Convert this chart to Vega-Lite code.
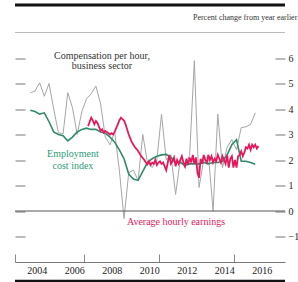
{
  "$schema": "https://vega.github.io/schema/vega-lite/v6.json",
  "autosize": {"type": "none"},
  "width": 270,
  "height": 229.5,
  "padding": {"left": 15, "top": 32.5, "right": 13, "bottom": 20},
  "background": "white",
  "config": {"view": {"stroke": null}, "font": "Liberation Serif"},
  "data": {"values": [{}]},
  "datasets": {
    "comp": [
      {"t": 2004.125, "v": 4.64}, {"t": 2004.375, "v": 4.7}, {"t": 2004.625, "v": 5.03}, {"t": 2004.875, "v": 4.5},
      {"t": 2005.125, "v": 5.0}, {"t": 2005.375, "v": 4.0}, {"t": 2005.625, "v": 3.07}, {"t": 2005.875, "v": 3.03},
      {"t": 2006.125, "v": 4.64}, {"t": 2006.375, "v": 4.05}, {"t": 2006.625, "v": 3.0}, {"t": 2006.875, "v": 3.9},
      {"t": 2007.125, "v": 4.4}, {"t": 2007.375, "v": 4.6}, {"t": 2007.625, "v": 4.9}, {"t": 2007.875, "v": 4.2},
      {"t": 2008.125, "v": 2.9}, {"t": 2008.375, "v": 2.6}, {"t": 2008.625, "v": 3.1}, {"t": 2008.875, "v": 1.6},
      {"t": 2009.125, "v": -0.3}, {"t": 2009.375, "v": 1.5}, {"t": 2009.625, "v": 1.6}, {"t": 2009.875, "v": 1.2},
      {"t": 2010.125, "v": 3.0}, {"t": 2010.375, "v": 1.9}, {"t": 2010.625, "v": 1.7}, {"t": 2010.875, "v": 2.0},
      {"t": 2011.125, "v": 3.8}, {"t": 2011.375, "v": 2.0}, {"t": 2011.625, "v": 2.2}, {"t": 2011.875, "v": 0.65},
      {"t": 2012.125, "v": 2.0}, {"t": 2012.375, "v": 1.7}, {"t": 2012.625, "v": 2.2}, {"t": 2012.875, "v": 5.9},
      {"t": 2013.125, "v": 0.92}, {"t": 2013.375, "v": 2.0}, {"t": 2013.625, "v": 2.2}, {"t": 2013.875, "v": 0.0},
      {"t": 2014.125, "v": 3.8}, {"t": 2014.375, "v": 1.7}, {"t": 2014.625, "v": 2.5}, {"t": 2014.875, "v": 2.8},
      {"t": 2015.125, "v": 2.4}, {"t": 2015.375, "v": 3.27}, {"t": 2015.625, "v": 3.3}, {"t": 2015.875, "v": 3.4},
      {"t": 2016.125, "v": 3.85}
    ],
    "eci": [
      {"t": 2004.125, "v": 3.95}, {"t": 2004.375, "v": 3.9}, {"t": 2004.625, "v": 3.8}, {"t": 2004.875, "v": 3.85},
      {"t": 2005.125, "v": 3.5}, {"t": 2005.375, "v": 3.1}, {"t": 2005.625, "v": 3.0}, {"t": 2005.875, "v": 2.95},
      {"t": 2006.125, "v": 2.75}, {"t": 2006.375, "v": 2.9}, {"t": 2006.625, "v": 3.1}, {"t": 2006.875, "v": 3.2},
      {"t": 2007.125, "v": 3.25}, {"t": 2007.375, "v": 3.2}, {"t": 2007.625, "v": 3.2}, {"t": 2007.875, "v": 3.1},
      {"t": 2008.125, "v": 3.05}, {"t": 2008.375, "v": 2.9}, {"t": 2008.625, "v": 2.7}, {"t": 2008.875, "v": 2.4},
      {"t": 2009.125, "v": 2.05}, {"t": 2009.375, "v": 1.45}, {"t": 2009.625, "v": 1.25}, {"t": 2009.875, "v": 1.2},
      {"t": 2010.125, "v": 1.55}, {"t": 2010.375, "v": 1.9}, {"t": 2010.625, "v": 2.05}, {"t": 2010.875, "v": 2.15},
      {"t": 2011.125, "v": 2.2}, {"t": 2011.375, "v": 2.22}, {"t": 2011.625, "v": 2.1}, {"t": 2011.875, "v": 1.9},
      {"t": 2012.125, "v": 1.9}, {"t": 2012.375, "v": 1.8}, {"t": 2012.625, "v": 1.85}, {"t": 2012.875, "v": 1.85},
      {"t": 2013.125, "v": 1.85}, {"t": 2013.375, "v": 1.9}, {"t": 2013.625, "v": 1.85}, {"t": 2013.875, "v": 1.9},
      {"t": 2014.125, "v": 1.9}, {"t": 2014.375, "v": 1.95}, {"t": 2014.625, "v": 2.2}, {"t": 2014.875, "v": 2.6},
      {"t": 2015.125, "v": 2.8}, {"t": 2015.375, "v": 1.95}, {"t": 2015.625, "v": 1.95}, {"t": 2015.875, "v": 1.9},
      {"t": 2016.125, "v": 1.83}
    ],
    "ahe": [
      {"t": 2007.208, "v": 3.33}, {"t": 2007.292, "v": 3.5}, {"t": 2007.375, "v": 3.66}, {"t": 2007.458, "v": 3.55},
      {"t": 2007.542, "v": 3.4}, {"t": 2007.625, "v": 3.53}, {"t": 2007.708, "v": 3.45}, {"t": 2007.792, "v": 3.3},
      {"t": 2007.875, "v": 3.14}, {"t": 2007.958, "v": 3.2},
      {"t": 2008.042, "v": 3.07}, {"t": 2008.125, "v": 3.14}, {"t": 2008.208, "v": 3.1}, {"t": 2008.292, "v": 3.05},
      {"t": 2008.375, "v": 3.0}, {"t": 2008.458, "v": 3.05}, {"t": 2008.542, "v": 3.0}, {"t": 2008.625, "v": 3.1},
      {"t": 2008.708, "v": 3.25}, {"t": 2008.792, "v": 3.4}, {"t": 2008.875, "v": 3.55}, {"t": 2008.958, "v": 3.66},
      {"t": 2009.042, "v": 3.6}, {"t": 2009.125, "v": 3.55}, {"t": 2009.208, "v": 3.4}, {"t": 2009.292, "v": 3.2},
      {"t": 2009.375, "v": 3.0}, {"t": 2009.458, "v": 2.85}, {"t": 2009.542, "v": 2.7}, {"t": 2009.625, "v": 2.6},
      {"t": 2009.708, "v": 2.5}, {"t": 2009.792, "v": 2.43}, {"t": 2009.875, "v": 2.35}, {"t": 2009.958, "v": 2.25},
      {"t": 2010.042, "v": 2.15}, {"t": 2010.125, "v": 2.08}, {"t": 2010.208, "v": 2.0}, {"t": 2010.292, "v": 1.9},
      {"t": 2010.375, "v": 1.83}, {"t": 2010.458, "v": 1.95}, {"t": 2010.542, "v": 1.8}, {"t": 2010.625, "v": 1.9},
      {"t": 2010.708, "v": 1.85}, {"t": 2010.792, "v": 2.0}, {"t": 2010.875, "v": 1.8}, {"t": 2010.958, "v": 1.9},
      {"t": 2011.042, "v": 1.95}, {"t": 2011.125, "v": 1.85}, {"t": 2011.208, "v": 1.9}, {"t": 2011.292, "v": 1.75},
      {"t": 2011.375, "v": 1.6}, {"t": 2011.458, "v": 1.9}, {"t": 2011.542, "v": 2.2}, {"t": 2011.625, "v": 1.85},
      {"t": 2011.708, "v": 1.95}, {"t": 2011.792, "v": 2.1}, {"t": 2011.875, "v": 1.75}, {"t": 2011.958, "v": 2.0},
      {"t": 2012.042, "v": 1.85}, {"t": 2012.125, "v": 2.0}, {"t": 2012.208, "v": 2.15}, {"t": 2012.292, "v": 1.9},
      {"t": 2012.375, "v": 1.75}, {"t": 2012.458, "v": 2.05}, {"t": 2012.542, "v": 1.8}, {"t": 2012.625, "v": 2.1},
      {"t": 2012.708, "v": 1.9}, {"t": 2012.792, "v": 2.2}, {"t": 2012.875, "v": 1.85}, {"t": 2012.958, "v": 2.1},
      {"t": 2013.042, "v": 1.5}, {"t": 2013.125, "v": 1.3}, {"t": 2013.208, "v": 2.05}, {"t": 2013.292, "v": 1.85},
      {"t": 2013.375, "v": 2.2}, {"t": 2013.458, "v": 2.0}, {"t": 2013.542, "v": 1.9}, {"t": 2013.625, "v": 2.2},
      {"t": 2013.708, "v": 2.0}, {"t": 2013.792, "v": 2.15}, {"t": 2013.875, "v": 1.9}, {"t": 2013.958, "v": 2.05},
      {"t": 2014.042, "v": 1.95}, {"t": 2014.125, "v": 2.2}, {"t": 2014.208, "v": 2.05}, {"t": 2014.292, "v": 1.9},
      {"t": 2014.375, "v": 2.15}, {"t": 2014.458, "v": 2.0}, {"t": 2014.542, "v": 1.85}, {"t": 2014.625, "v": 2.2},
      {"t": 2014.708, "v": 1.7}, {"t": 2014.792, "v": 2.05}, {"t": 2014.875, "v": 2.15}, {"t": 2014.958, "v": 1.7},
      {"t": 2015.042, "v": 2.0}, {"t": 2015.125, "v": 1.7}, {"t": 2015.208, "v": 2.15}, {"t": 2015.292, "v": 2.2},
      {"t": 2015.375, "v": 2.35}, {"t": 2015.458, "v": 2.15}, {"t": 2015.542, "v": 2.3}, {"t": 2015.625, "v": 2.5},
      {"t": 2015.708, "v": 2.45}, {"t": 2015.792, "v": 2.6}, {"t": 2015.875, "v": 2.4}, {"t": 2015.958, "v": 2.6},
      {"t": 2016.042, "v": 2.5}, {"t": 2016.125, "v": 2.6}, {"t": 2016.208, "v": 2.45}, {"t": 2016.292, "v": 2.55}
    ],
    "years": [
      {"year": 2004}, {"year": 2006}, {"year": 2008}, {"year": 2010}, {"year": 2012}, {"year": 2014}, {"year": 2016}
    ]
  },
  "resolve": {"axis": {"y": "independent"}},
  "layer": [
    {
      "data": {"name": "comp"},
      "mark": {"type": "line", "color": "#a6a6a6", "strokeWidth": 1},
      "encoding": {
        "x": {
          "field": "t", "type": "quantitative",
          "scale": {"domain": [2003.31, 2017.71], "nice": false, "zero": false},
          "axis": {
            "title": null,
            "values": [2003.31, 2004, 2005, 2006, 2007, 2008, 2009, 2010, 2011, 2012, 2013, 2014, 2015, 2016, 2017, 2017.71],
            "labels": false,
            "tickSize": -8,
            "tickColor": "#888888",
            "domainColor": "#777777",
            "grid": false
          }
        },
        "y": {
          "field": "v", "type": "quantitative",
          "scale": {"domain": [-2, 7], "nice": false, "zero": false},
          "axis": {
            "orient": "left", "title": null, "labels": false, "domain": false, "grid": false,
            "values": [-1, 0, 1, 2, 3, 4, 5, 6], "tickSize": -10, "tickColor": "#777777"
          }
        }
      }
    },
    {
      "data": {"name": "eci"},
      "mark": {"type": "line", "color": "#2f8a6a", "strokeWidth": 1.6},
      "encoding": {
        "x": {"field": "t", "type": "quantitative"},
        "y": {
          "field": "v", "type": "quantitative",
          "scale": {"domain": [-2, 7], "nice": false, "zero": false},
          "axis": {
            "orient": "right", "title": null, "domain": false, "grid": false,
            "values": [-1, 0, 1, 2, 3, 4, 5, 6], "tickSize": -10, "tickColor": "#777777",
            "labelPadding": 13, "labelFont": "Liberation Serif", "labelFontSize": 10, "labelColor": "#222222"
          }
        }
      }
    },
    {
      "data": {"name": "ahe"},
      "mark": {"type": "line", "color": "#e6185c", "strokeWidth": 1.8},
      "encoding": {
        "x": {"field": "t", "type": "quantitative"},
        "y": {"field": "v", "type": "quantitative", "axis": null}
      }
    },
    {
      "data": {"name": "years"},
      "mark": {"type": "text", "font": "Liberation Serif", "fontSize": 10, "align": "center", "baseline": "top", "dx": 9.4, "dy": 4, "color": "#222222"},
      "encoding": {
        "x": {"field": "year", "type": "quantitative"},
        "y": {"datum": -2, "type": "quantitative", "axis": null},
        "text": {"field": "year", "type": "quantitative", "format": "d"}
      }
    },
    {
      "mark": {"type": "rule", "color": "#555555", "strokeWidth": 1},
      "encoding": {"y": {"datum": 0, "type": "quantitative", "axis": null}}
    },
    {
      "mark": {"type": "rule", "color": "#bbbbbb", "strokeWidth": 1},
      "encoding": {"y": {"datum": 7, "type": "quantitative", "axis": null}}
    },
    {
      "mark": {"type": "rule", "color": "#111111", "strokeWidth": 3},
      "encoding": {"y": {"datum": 8.08, "type": "quantitative", "axis": null}}
    },
    {
      "mark": {"type": "rule", "color": "#111111", "strokeWidth": 2.5},
      "encoding": {"y": {"datum": -2.745, "type": "quantitative", "axis": null}}
    },
    {
      "mark": {"type": "text", "font": "Liberation Serif", "fontSize": 8, "align": "left", "baseline": "middle", "color": "#333333", "text": "Percent change from year earlier"},
      "encoding": {
        "x": {"datum": 2012.8, "type": "quantitative"},
        "y": {"datum": 7.57, "type": "quantitative", "axis": null}
      }
    },
    {
      "mark": {"type": "text", "font": "Liberation Serif", "fontSize": 10, "align": "center", "baseline": "middle", "color": "#333333", "text": "Compensation per hour,"},
      "encoding": {
        "x": {"datum": 2007.95, "type": "quantitative"},
        "y": {"datum": 6.08, "type": "quantitative", "axis": null}
      }
    },
    {
      "mark": {"type": "text", "font": "Liberation Serif", "fontSize": 10, "align": "center", "baseline": "middle", "color": "#333333", "text": "business sector"},
      "encoding": {
        "x": {"datum": 2007.95, "type": "quantitative"},
        "y": {"datum": 5.69, "type": "quantitative", "axis": null}
      }
    },
    {
      "mark": {"type": "text", "font": "Liberation Serif", "fontSize": 10, "align": "center", "baseline": "middle", "color": "#2e9a7a", "text": "Employment"},
      "encoding": {
        "x": {"datum": 2006.4, "type": "quantitative"},
        "y": {"datum": 2.24, "type": "quantitative", "axis": null}
      }
    },
    {
      "mark": {"type": "text", "font": "Liberation Serif", "fontSize": 10, "align": "center", "baseline": "middle", "color": "#2e9a7a", "text": "cost index"},
      "encoding": {
        "x": {"datum": 2006.4, "type": "quantitative"},
        "y": {"datum": 1.76, "type": "quantitative", "axis": null}
      }
    },
    {
      "mark": {"type": "text", "font": "Liberation Serif", "fontSize": 10, "align": "left", "baseline": "middle", "color": "#e6185c", "text": "Average hourly earnings"},
      "encoding": {
        "x": {"datum": 2009.28, "type": "quantitative"},
        "y": {"datum": -0.43, "type": "quantitative", "axis": null}
      }
    }
  ]
}
